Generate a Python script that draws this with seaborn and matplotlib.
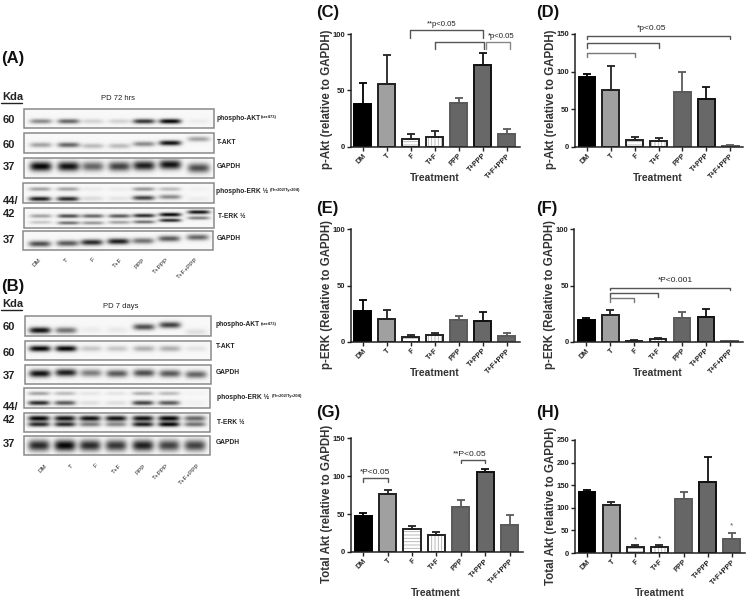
# Import necessary libraries
import numpy as np
import pandas as pd
import matplotlib
matplotlib.use("Agg")
import matplotlib.pyplot as plt
import seaborn as sns
from matplotlib.patches import Rectangle

# Treatment groups shared by the bar panels
groups = ["DM", "T", "F", "T+F", "PPP", "T+PPP", "T+F+PPP"]

# Bar heights and top of the error bar for each panel
c_vals = [38, 56, 6.5, 9, 38.5, 73, 11]
c_tops = [57, 82, 11, 14, 43, 83, 16]
d_vals = [93, 75, 9.5, 8, 73, 63, 1]
d_tops = [97, 107, 13, 12, 100, 80, 2]
e_vals = [27, 20, 4, 6, 19, 18.5, 5.5]
e_tops = [37, 28, 6, 8, 23, 26, 8]
f_vals = [19, 24, 1, 2.5, 21, 22, 0.5]
f_tops = [21, 28.5, 1.5, 3, 26.5, 29.5, 0.7]
g_vals = [48, 77, 30, 22, 60, 105, 35]
g_tops = [51, 82, 34, 26, 68, 110, 49]
h_vals = [135, 106, 13, 14, 119, 156, 32]
h_tops = [140, 113, 18, 18, 134, 212, 44]

# Band strength per lane on the western blots (0 = nothing, 1 = black)
a_pakt = [.45, .6, .15, .15, .8, 1, .05]
a_takt = [.35, .6, .25, .25, .45, .95, .35]
a_gapdh1 = [1, .95, .6, .75, .9, .95, .7]
a_perk_up = [.35, .35, .05, .05, .4, .25, .03]
a_perk_low = [.9, .85, .12, .08, .75, .45, .05]
a_terk_up = [.35, .7, .6, .65, .85, 1, .95]
a_terk_low = [.2, .55, .4, .35, .55, .85, .5]
a_gapdh2 = [.7, .65, .85, .9, .55, .65, .6]
b_pakt = [.95, .55, .05, .06, .7, .75, .1]
b_takt = [1, 1, .2, .2, .3, .3, .08]
b_gapdh1 = [.95, .9, .5, .65, .7, .65, .6]
b_perk_up = [.35, .25, .08, .08, .3, .25, .02]
b_perk_low = [.85, .65, .1, .1, .75, .65, .03]
b_terk_up = [1, .95, .95, .95, .95, 1, .6]
b_terk_low = [.85, .85, .5, .45, .9, 1, .55]
b_gapdh2 = [.85, 1, .85, .8, .9, .75, .75]

sns.set_theme(style="ticks")
plt.rcParams["font.family"] = ["Liberation Sans", "DejaVu Sans"]
plt.rcParams["hatch.linewidth"] = 0.6

fig = plt.figure(figsize=(7.46, 6), dpi=100)

# Full figure layer in pixel coordinates for the blots and free text
base = fig.add_axes([0, 0, 1, 1])
base.set_xlim(0, 746)
base.set_ylim(600, 0)
base.axis("off")

# Where the lanes sit inside a blot frame
a_lanes = [.088, .234, .362, .502, .632, .77, .92]
b_lanes = [.08, .22, .355, .495, .64, .78, .92]


# Function to draw one blot frame with its bands
def draw_blot(box, lanes, rows):
    x0, x1, y0, y1 = box
    w, h = (x1 - x0) * 3, (y1 - y0) * 3
    xx, yy = np.meshgrid(np.linspace(0, 1, w), np.linspace(0, 1, h))
    img = np.zeros((h, w))
    for strengths, ys, thick in rows:
        ys = np.broadcast_to(ys, (7,))
        for lane, s, y in zip(lanes, strengths, ys):
            # rounded band: flat along the lane, soft towards the edges
            across = np.exp(-(((xx - lane) / 0.058) ** 4))
            down = np.exp(-(((yy - y) / thick) ** 2))
            img += s * across * down
    img = 0.97 - 0.95 * np.clip(img, 0, 1)
    base.imshow(img, cmap="gray", vmin=0, vmax=1, extent=(x0, x1, y1, y0),
                aspect="auto", interpolation="bilinear", zorder=1)
    base.add_patch(Rectangle((x0, y0), x1 - x0, y1 - y0, fill=False,
                             edgecolor="#8a8a8a", linewidth=1.1, zorder=2))


# Blot panel A
draw_blot((24, 214, 109, 128), a_lanes, [(a_pakt, .65, .13)])
draw_blot((24, 214, 133, 153), a_lanes, [(a_takt, [.6, .6, .65, .65, .55, .5, .3], .13)])
draw_blot((24, 214, 158, 178), a_lanes, [(a_gapdh1, [.42, .42, .42, .42, .38, .33, .5], .24)])
draw_blot((23, 214, 183, 203), a_lanes, [(a_perk_up, .3, .1),
                                         (a_perk_low, [.8, .8, .78, .78, .75, .7, .8], .12)])
draw_blot((24, 214, 208, 228), a_lanes, [(a_terk_up, [.4, .4, .4, .4, .38, .33, .2], .1),
                                         (a_terk_low, [.72, .75, .75, .72, .7, .62, .5], .09)])
draw_blot((23, 213, 231, 250), a_lanes, [(a_gapdh2, [.68, .65, .6, .55, .52, .4, .33], .16)])

# Blot panel B
draw_blot((25, 211, 316, 336), b_lanes, [(b_pakt, [.72, .72, .7, .7, .55, .45, .8], .16)])
draw_blot((25, 211, 341, 360), b_lanes, [(b_takt, .4, .16)])
draw_blot((25, 211, 365, 384), b_lanes, [(b_gapdh1, [.45, .4, .42, .45, .42, .45, .5], .2)])
draw_blot((24, 210, 388, 408), b_lanes, [(b_perk_up, .27, .1), (b_perk_low, .75, .12)])
draw_blot((24, 210, 413, 432), b_lanes, [(b_terk_up, .28, .15), (b_terk_low, .6, .13)])
draw_blot((24, 210, 436, 455), b_lanes, [(b_gapdh2, .5, .3)])


# Small helper for free text placed in pixels
def put(x, y, s, size, ha="left", weight="bold", color="#222222", **kw):
    base.text(x, y, s, fontsize=size, ha=ha, va="center", fontweight=weight,
              color=color, zorder=5, **kw)


# Panel letters
for x, y, s in [(1, 58, "(A)"), (1, 286, "(B)"), (316, 12, "(C)"), (536, 12, "(D)"),
                (316, 209, "(E)"), (536, 209, "(F)"), (316, 413, "(G)"), (536, 413, "(H)")]:
    put(x, y, s, 12, color="#111111")

# Molecular weight columns
for y, s in [(120, "60"), (145, "60"), (167, "37"), (201, "44/"), (214, "42"), (240, "37"),
             (327, "60"), (353, "60"), (376, "37"), (407, "44/"), (420, "42"), (444, "37")]:
    put(3, y, s, 8)
for y in [97, 304]:
    put(2, y, "Kda", 8)
    base.plot([1, 22], [y + 6, y + 6], color="#222222", lw=1)

put(118, 99, "PD 72 hrs", 5.5, ha="center", weight="normal")
put(121, 306, "PD 7 days", 5.5, ha="center", weight="normal")

# Blot names on the right hand side
for x, y, s in [(217, 118, "phospho-AKT"), (217, 142, "T-AKT"), (217, 166, "GAPDH"),
                (216, 191, "phospho-ERK \u00bd"), (218, 217, "T-ERK \u00bd"), (217, 238, "GAPDH"),
                (216, 325, "phospho-AKT"), (216, 347, "T-AKT"), (216, 372, "GAPDH"),
                (217, 397, "phospho-ERK \u00bd"), (217, 423, "T-ERK \u00bd"), (216, 443, "GAPDH")]:
    put(x, y, s, 4.8)
for x, y, s in [(261, 117, "(ser473)"), (270, 190, "(Thr202/Tyr204)"),
                (261, 324, "(ser473)"), (272, 396, "(Thr202/Tyr204)")]:
    put(x, y, s, 3)

# Lane names under the blots
a_ends = [39, 66, 92, 120, 142, 166, 195]
b_ends = [45, 71, 95, 119, 143, 166, 197]
for ends, y in [(a_ends, 257), (b_ends, 463)]:
    for x, s in zip(ends, groups):
        base.text(x, y, s, fontsize=4.5, rotation=45, ha="right", va="top",
                  rotation_mode="anchor", color="#222222", zorder=5)

fills = ["#000000", "#a0a0a0", "#ffffff", "#ffffff", "#666666", "#686868", "#666666"]
edges = ["#000000", "#222222", "#222222", "#222222", "#5a5a5a", "#111111", "#5a5a5a"]


# Function to draw one bar panel
def bar_panel(box, vals, tops, ymax, yticks, ylabel):
    x0, x1, y_top, y_zero = box
    ax = fig.add_axes([x0 / 746, 1 - y_zero / 600, (x1 - x0) / 746, (y_zero - y_top) / 600],
                      facecolor="none")
    df = pd.DataFrame({"group": groups, "value": vals})
    sns.barplot(data=df, x="group", y="value", hue="group", palette=fills, legend=False,
                width=0.7, saturation=1, ax=ax)
    for i, (patch, edge) in enumerate(zip(ax.patches, edges)):
        patch.set_edgecolor(edge)
        patch.set_linewidth(1.4)
        if groups[i] in ("F", "T+F"):
            # hatch takes the edge colour, so the dark outline goes on top
            patch.set_edgecolor("#b0b0b0")
            patch.set_linewidth(0)
            patch.set_hatch("-----" if groups[i] == "F" else "|||||")
            ax.add_patch(Rectangle(patch.get_xy(), patch.get_width(), patch.get_height(),
                                   fill=False, edgecolor=edge, linewidth=1.4, zorder=3))
        ax.errorbar(i, vals[i], yerr=[[0], [tops[i] - vals[i]]], fmt="none", ecolor=edge,
                    elinewidth=1.3, capsize=3, capthick=1.3, zorder=2.5)
    ax.set_xlim(-0.5, 6.55)
    ax.set_ylim(0, ymax)
    ax.set_yticks(yticks)
    ax.set_xlabel("")
    ax.set_ylabel("")
    ax.tick_params(axis="y", labelsize=5.5, length=3, width=1, pad=1, color="#222222")
    ax.tick_params(axis="x", labelsize=5.2, length=3, width=1, pad=1, color="#222222")
    plt.setp(ax.get_yticklabels(), fontweight="bold", color="#222222")
    plt.setp(ax.get_xticklabels(), fontweight="bold", color="#222222", rotation=45,
             ha="right", rotation_mode="anchor")
    sns.despine(ax=ax)
    for side in ("left", "bottom"):
        ax.spines[side].set_linewidth(1.1)
        ax.spines[side].set_color("#222222")
    # the y labels sit a little below the middle of the axis
    put(x0 - 24, (y_top + y_zero) / 2 + 9, ylabel, 8.3, ha="center", rotation=90, color="#333333")
    return ax


# Function to draw a significance bracket
def bracket(ax, x1, x2, top, low, color="#555555"):
    ax.plot([x1, x1, x2, x2], [low, top, top, low], color=color, lw=1, clip_on=False, zorder=4)


# Panel C
ax = bar_panel((350.7, 520, 34.3, 146.7), c_vals, c_tops, 100, [0, 50, 100], "p-Akt (relative to GAPDH)")
bracket(ax, 1.97, 5, 103.8, 97)
bracket(ax, 3, 5.05, 93, 86.6)
bracket(ax, 5.12, 6.15, 93, 86.6, "#888888")
put(442, 24, "**p<0.05", 5.6, ha="center", weight="normal")
put(501, 36, "*p<0.05", 5.6, ha="center", weight="normal")
put(435, 178, "Treatment", 7.5, ha="center", color="#333333")

# Panel D
ax = bar_panel((575, 743.3, 34, 146.7), d_vals, d_tops, 150, [0, 50, 100, 150], "p-Akt (relative to GAPDH)")
bracket(ax, 0, 6, 147, 143)
bracket(ax, 0, 3, 138, 132)
bracket(ax, 0, 2, 125, 119, "#777777")
put(652, 29, "*p<0.05", 6, ha="center", weight="normal")
put(658, 178, "Treatment", 7.5, ha="center", color="#333333")

# Panel E
bar_panel((350.7, 520, 229.3, 341.7), e_vals, e_tops, 100, [0, 50, 100], "p-ERK (Relative to GAPDH)")
put(435, 373, "Treatment", 7.5, ha="center", color="#333333")

# Panel F
ax = bar_panel((574.3, 743, 229.3, 341.7), f_vals, f_tops, 100, [0, 50, 100], "p-ERK (Relative to GAPDH)")
bracket(ax, 1, 6, 48, 46)
bracket(ax, 1, 3, 43.2, 39.5)
bracket(ax, 1, 2, 38.6, 35.6, "#777777")
put(675, 281, "*P<0.001", 6, ha="center", weight="normal")
put(658, 373, "Treatment", 7.5, ha="center", color="#333333")

# Panel G
ax = bar_panel((351, 523, 438.3, 552), g_vals, g_tops, 150, [0, 50, 100, 150], "Total Akt (relative to GAPDH)")
bracket(ax, 0, 1, 97, 93)
bracket(ax, 4, 5, 121, 117)
put(375, 472, "*P<0.05", 6, ha="center", weight="normal")
put(470, 455, "**P<0.05", 6, ha="center", weight="normal")
put(436, 593, "Treatment", 7.5, ha="center", color="#333333")

# Panel H
ax = bar_panel((575, 745, 440, 553), h_vals, h_tops, 250, [0, 50, 100, 150, 200, 250], "Total Akt (relative to GAPDH)")
for i, y in [(2, 29), (3, 31), (6, 60)]:
    ax.text(i, y, "*", fontsize=6, ha="center", va="center", color="#555555")
put(660, 593, "Treatment", 7.5, ha="center", color="#333333")

plt.savefig("out.png", dpi=100)
